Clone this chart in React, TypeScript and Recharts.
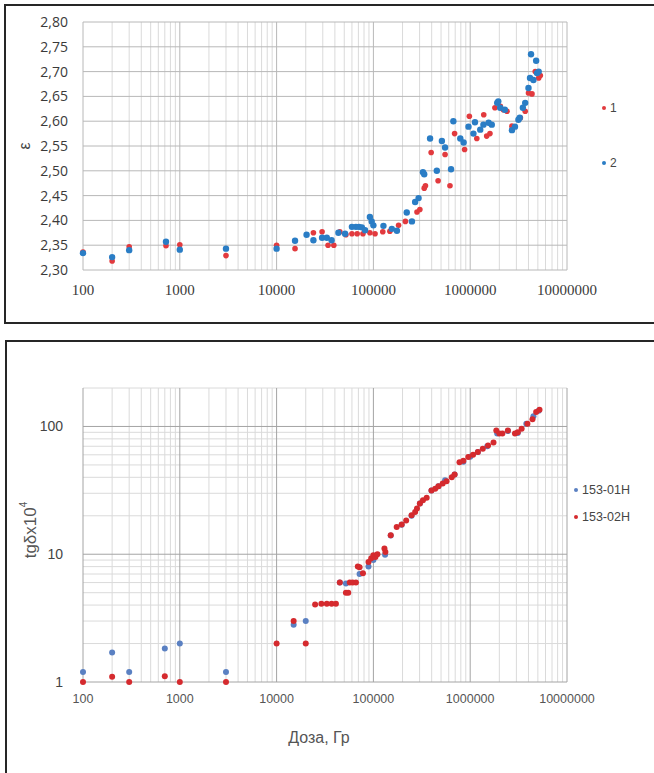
import React from 'react';
import { ScatterChart, Scatter, XAxis, YAxis, ReferenceLine, Legend, Label } from 'recharts';

// ---------- axes ----------
const doseTicks = [100, 1000, 10000, 100000, 1000000, 10000000];
const minorSteps = [2, 3, 4, 5, 6, 7, 8, 9];
const epsTicks = [2.3, 2.35, 2.4, 2.45, 2.5, 2.55, 2.6, 2.65, 2.7, 2.75, 2.8];
const tgTicks = [1, 10, 100];
const tgMinor = [2, 3, 4, 5, 6, 7, 8, 9, 20, 30, 40, 50, 60, 70, 80, 90, 200];

// ---------- top chart: ε vs dose ----------
const epsSeries1Name = '1';
const epsSeries2Name = '2';
const eps1Dose = [100, 200, 300, 720, 1000, 3000, 10000, 15500, 24000, 29500, 34000, 39000, 45000, 52000, 60000, 68000, 78000, 92000, 104000, 125000, 148000, 182000, 214000, 282000, 302000, 335000, 345000, 395000, 466000, 550000, 618000, 690000, 875000, 980000, 1170000, 1380000, 1480000, 1600000, 1800000, 2050000, 2200000, 2400000, 2700000, 3300000, 3700000, 4000000, 4350000, 4700000, 5100000, 5300000];
const eps1 = [2.336, 2.318, 2.347, 2.349, 2.351, 2.329, 2.35, 2.343, 2.375, 2.377, 2.35, 2.35, 2.377, 2.371, 2.373, 2.373, 2.373, 2.375, 2.373, 2.377, 2.378, 2.39, 2.398, 2.417, 2.422, 2.465, 2.47, 2.537, 2.48, 2.533, 2.47, 2.575, 2.543, 2.61, 2.565, 2.613, 2.57, 2.575, 2.627, 2.63, 2.623, 2.62, 2.59, 2.607, 2.62, 2.657, 2.655, 2.7, 2.687, 2.692];
const eps2Dose = [100, 200, 300, 720, 1000, 3000, 10000, 15500, 20400, 24000, 29500, 33000, 37000, 43500, 51000, 60000, 66000, 71000, 76000, 82000, 92000, 96000, 100000, 127000, 155000, 175000, 221000, 250000, 270000, 293000, 325000, 335000, 385000, 452000, 510000, 550000, 634000, 670000, 790000, 855000, 960000, 1080000, 1120000, 1270000, 1370000, 1550000, 1670000, 1900000, 1950000, 2040000, 2280000, 2700000, 2900000, 3150000, 3250000, 3500000, 3700000, 4000000, 4150000, 4250000, 4500000, 4800000, 4900000, 5100000];
const eps2 = [2.334, 2.326, 2.34, 2.357, 2.341, 2.343, 2.343, 2.359, 2.371, 2.36, 2.365, 2.365, 2.36, 2.375, 2.373, 2.387, 2.387, 2.387, 2.386, 2.38, 2.407, 2.398, 2.39, 2.389, 2.383, 2.379, 2.416, 2.398, 2.437, 2.445, 2.497, 2.493, 2.565, 2.5, 2.56, 2.547, 2.503, 2.6, 2.565, 2.557, 2.589, 2.575, 2.598, 2.583, 2.593, 2.597, 2.593, 2.637, 2.64, 2.627, 2.623, 2.582, 2.589, 2.603, 2.607, 2.627, 2.637, 2.667, 2.687, 2.735, 2.683, 2.722, 2.697, 2.7];

// ---------- bottom chart: tgδ×10^4 vs dose ----------
const tgSeries1Name = '153-01Н';
const tgSeries2Name = '153-02Н';
const tg1Dose = [100, 200, 300, 700, 1000, 3000, 15000, 20000, 45000, 52000, 72000, 89000, 100000, 132000, 151000, 196000, 248000, 302000, 398000, 470000, 550000, 690000, 850000, 1000000, 1200000, 1500000, 1900000, 2450000, 3100000, 3800000, 4500000, 5100000];
const tg1 = [1.2, 1.7, 1.2, 1.83, 2.0, 1.2, 2.8, 3.0, 6.0, 5.9, 7.0, 8.0, 9.0, 9.9, 14, 17, 20, 25, 31.6, 34, 38, 42, 53, 58, 63, 70, 88, 92, 89, 105, 120, 133];
const tg2Dose = [100, 200, 300, 700, 1000, 3000, 10000, 15000, 20000, 25000, 29000, 33000, 37000, 41000, 45000, 52000, 55000, 57000, 61000, 66000, 69000, 72000, 78000, 89000, 95000, 100000, 105000, 110000, 130000, 133000, 151000, 174000, 196000, 218000, 248000, 270000, 282000, 302000, 325000, 355000, 398000, 435000, 470000, 520000, 570000, 645000, 690000, 775000, 850000, 955000, 1070000, 1200000, 1350000, 1530000, 1740000, 1860000, 2000000, 2150000, 2450000, 2900000, 3100000, 3400000, 3900000, 4400000, 4800000, 5200000];
const tg2 = [1.0, 1.1, 1.0, 1.11, 1.0, 1.0, 2.0, 3.0, 2.0, 4.05, 4.1, 4.1, 4.1, 4.1, 6.0, 5.0, 5.0, 6.0, 6.0, 6.0, 8.0, 7.9, 7.1, 8.7, 9.3, 9.8, 9.5, 10, 11.1, 10.4, 14.1, 16.3, 17.1, 18.4, 20.2, 21.4, 22.8, 24.9, 26.5, 27.7, 31.6, 32.6, 34, 35.7, 37.2, 40, 42, 52.5, 54, 57.8, 60, 63, 67, 71, 75, 93, 88, 88, 93, 88, 90, 96, 105, 114, 130, 135];

// ---------- styles ----------
const TOP_RED = '#e23a3e';
const TOP_BLUE = '#2a7dc5';
const BOT_BLUE = '#5a80c2';
const BOT_RED = '#d52a2e';
const MINOR = '#dadada';
const MAJOR = '#b8b8b8';
const MAJOR_DARK = '#a4a4a4';
const TEXT = '#454545';

const minorDose = doseTicks.slice(0, -1).flatMap((d) => minorSteps.map((m) => d * m));

const pairs = (xs: number[], ys: number[]) => xs.map((x, i) => ({ x, y: ys[i] }));

const makeDot = (color: string, r: number) => (props: any) => {
  if (props.cx == null || props.cy == null) return <g />;
  return <circle cx={props.cx} cy={props.cy} r={r} fill={color} />;
};

const makeLegend = (gap: number, fontSize: number) => (props: any) => {
  const payload = props.payload || [];
  return (
    <div style={{ fontFamily: 'Liberation Sans, Arial, sans-serif', fontSize, color: TEXT }}>
      {payload.map((e: any, i: number) => (
        <div key={i} style={{ height: gap, display: 'flex', alignItems: 'center' }}>
          <span style={{ display: 'inline-block', width: 4, height: 4, borderRadius: 2, background: e.color, marginRight: 4 }} />
          <span>{e.value}</span>
        </div>
      ))}
    </div>
  );
};

const EpsTitle = (props: any) => {
  const vb = props.viewBox || { x: 0, y: 0, width: 0, height: 0 };
  const cx = vb.x + 24;
  const cy = vb.y + vb.height / 2;
  return (
    <text x={cx} y={cy} transform={`rotate(-90 ${cx} ${cy})`} textAnchor="middle" dominantBaseline="central" fontSize={16} fill={TEXT} fontFamily="Liberation Sans, Arial, sans-serif">
      ε
    </text>
  );
};

const TgTitle = (props: any) => {
  const vb = props.viewBox || { x: 0, y: 0, width: 0, height: 0 };
  const cx = vb.x + 30;
  const cy = vb.y + vb.height / 2 - 5;
  return (
    <text x={cx} y={cy} transform={`rotate(-90 ${cx} ${cy})`} textAnchor="middle" dominantBaseline="central" fontSize={17} fill="#555" fontFamily="Liberation Sans, Arial, sans-serif">
      tgδx10<tspan dy={-7} fontSize={10}>4</tspan>
    </text>
  );
};

const DoseTitle = (props: any) => {
  const vb = props.viewBox || { x: 0, y: 0, width: 0, height: 0 };
  const cx = vb.x + vb.width / 2 - 6;
  const cy = vb.y + 55;
  return (
    <text x={cx} y={cy} textAnchor="middle" dominantBaseline="central" fontSize={16} fill="#555" fontFamily="Liberation Sans, Arial, sans-serif">
      Доза, Гр
    </text>
  );
};

const fmtComma = (v: number) => v.toFixed(2).replace('.', ',');

function TopChart() {
  const d1 = pairs(eps1Dose, eps1);
  const d2 = pairs(eps2Dose, eps2);
  return (
    <ScatterChart width={654} height={330} margin={{ top: 22, right: 87, bottom: 20, left: 0 }}>
      {minorDose.map((v) => (
        <ReferenceLine key={'vm' + v} x={v} stroke={MINOR} strokeWidth={1} />
      ))}
      {doseTicks.map((v) => (
        <ReferenceLine key={'vM' + v} x={v} stroke={MAJOR} strokeWidth={1} />
      ))}
      {epsTicks.map((v) => (
        <ReferenceLine key={'h' + v} y={v} stroke={MAJOR} strokeWidth={1} />
      ))}
      <XAxis
        type="number"
        dataKey="x"
        scale="log"
        domain={[100, 10000000]}
        ticks={doseTicks}
        axisLine={false}
        tickLine={false}
        height={40}
        tickMargin={8}
        tick={{ fontFamily: 'Liberation Serif, serif', fontSize: 15, fill: '#3a3a3a' }}
        interval={0}
      />
      <YAxis
        type="number"
        dataKey="y"
        domain={[2.3, 2.8]}
        ticks={epsTicks}
        axisLine={false}
        tickLine={false}
        width={83}
        tickMargin={9}
        tickFormatter={fmtComma}
        tick={{ fontFamily: 'Open Sans, sans-serif', fontSize: 14, fill: '#3a3a3a' }}
        interval={0}
      >
        <Label content={EpsTitle} />
      </YAxis>
      <Scatter name={epsSeries1Name} data={d1} fill={TOP_RED} shape={makeDot(TOP_RED, 2.8)} isAnimationActive={false} />
      <Scatter name={epsSeries2Name} data={d2} fill={TOP_BLUE} shape={makeDot(TOP_BLUE, 3.2)} isAnimationActive={false} />
      <Legend
        layout="vertical"
        align="center"
        verticalAlign="middle"
        content={makeLegend(55, 12)}
        wrapperStyle={{ left: 602, top: 80, width: 50, height: 110 }}
      />
    </ScatterChart>
  );
}

function BottomChart() {
  const d1 = pairs(tg1Dose, tg1);
  const d2 = pairs(tg2Dose, tg2);
  return (
    <ScatterChart width={654} height={443} margin={{ top: 58, right: 87, bottom: 29, left: 0 }}>
      {minorDose.map((v) => (
        <ReferenceLine key={'vm' + v} x={v} stroke={MINOR} strokeWidth={1} />
      ))}
      {tgMinor.map((v) => (
        <ReferenceLine key={'hm' + v} y={v} stroke={MINOR} strokeWidth={1} />
      ))}
      {doseTicks.map((v) => (
        <ReferenceLine key={'vM' + v} x={v} stroke={MAJOR_DARK} strokeWidth={1} />
      ))}
      {tgTicks.map((v) => (
        <ReferenceLine key={'hM' + v} y={v} stroke={MAJOR_DARK} strokeWidth={1} />
      ))}
      <XAxis
        type="number"
        dataKey="x"
        scale="log"
        domain={[100, 10000000]}
        ticks={doseTicks}
        axisLine={false}
        tickLine={false}
        height={62}
        tickMargin={6}
        tick={{ fontFamily: 'Liberation Sans, Arial, sans-serif', fontSize: 12.5, fill: '#555' }}
        interval={0}
      >
        <Label content={DoseTitle} />
      </XAxis>
      <YAxis
        type="number"
        dataKey="y"
        scale="log"
        domain={[1, 200]}
        ticks={tgTicks}
        axisLine={false}
        tickLine={false}
        width={83}
        tickMargin={14}
        tick={{ fontFamily: 'Liberation Sans, Arial, sans-serif', fontSize: 14, fill: '#444' }}
        interval={0}
      >
        <Label content={TgTitle} />
      </YAxis>
      <Scatter name={tgSeries1Name} data={d1} fill={BOT_BLUE} shape={makeDot(BOT_BLUE, 3)} isAnimationActive={false} />
      <Scatter name={tgSeries2Name} data={d2} fill={BOT_RED} shape={makeDot(BOT_RED, 3)} isAnimationActive={false} />
      <Legend
        layout="vertical"
        align="center"
        verticalAlign="middle"
        content={makeLegend(27, 12.5)}
        wrapperStyle={{ left: 574, top: 146, width: 80, height: 60 }}
      />
    </ScatterChart>
  );
}

export default function App() {
  return (
    <div style={{ position: 'absolute', left: 0, top: 0, width: 654, height: 773, background: '#fff', overflow: 'hidden' }}>
      <div style={{ position: 'absolute', left: 4, top: 4, width: 700, height: 320, boxSizing: 'border-box', borderLeft: '2px solid #262626', borderTop: '2px solid #262626', borderBottom: '2px solid #262626' }} />
      <div style={{ position: 'absolute', left: 5, top: 340, width: 700, height: 500, boxSizing: 'border-box', borderLeft: '2px solid #262626', borderTop: '2px solid #262626' }} />
      <div style={{ position: 'absolute', left: 0, top: 0 }}>
        <TopChart />
      </div>
      <div style={{ position: 'absolute', left: 0, top: 330 }}>
        <BottomChart />
      </div>
    </div>
  );
}
